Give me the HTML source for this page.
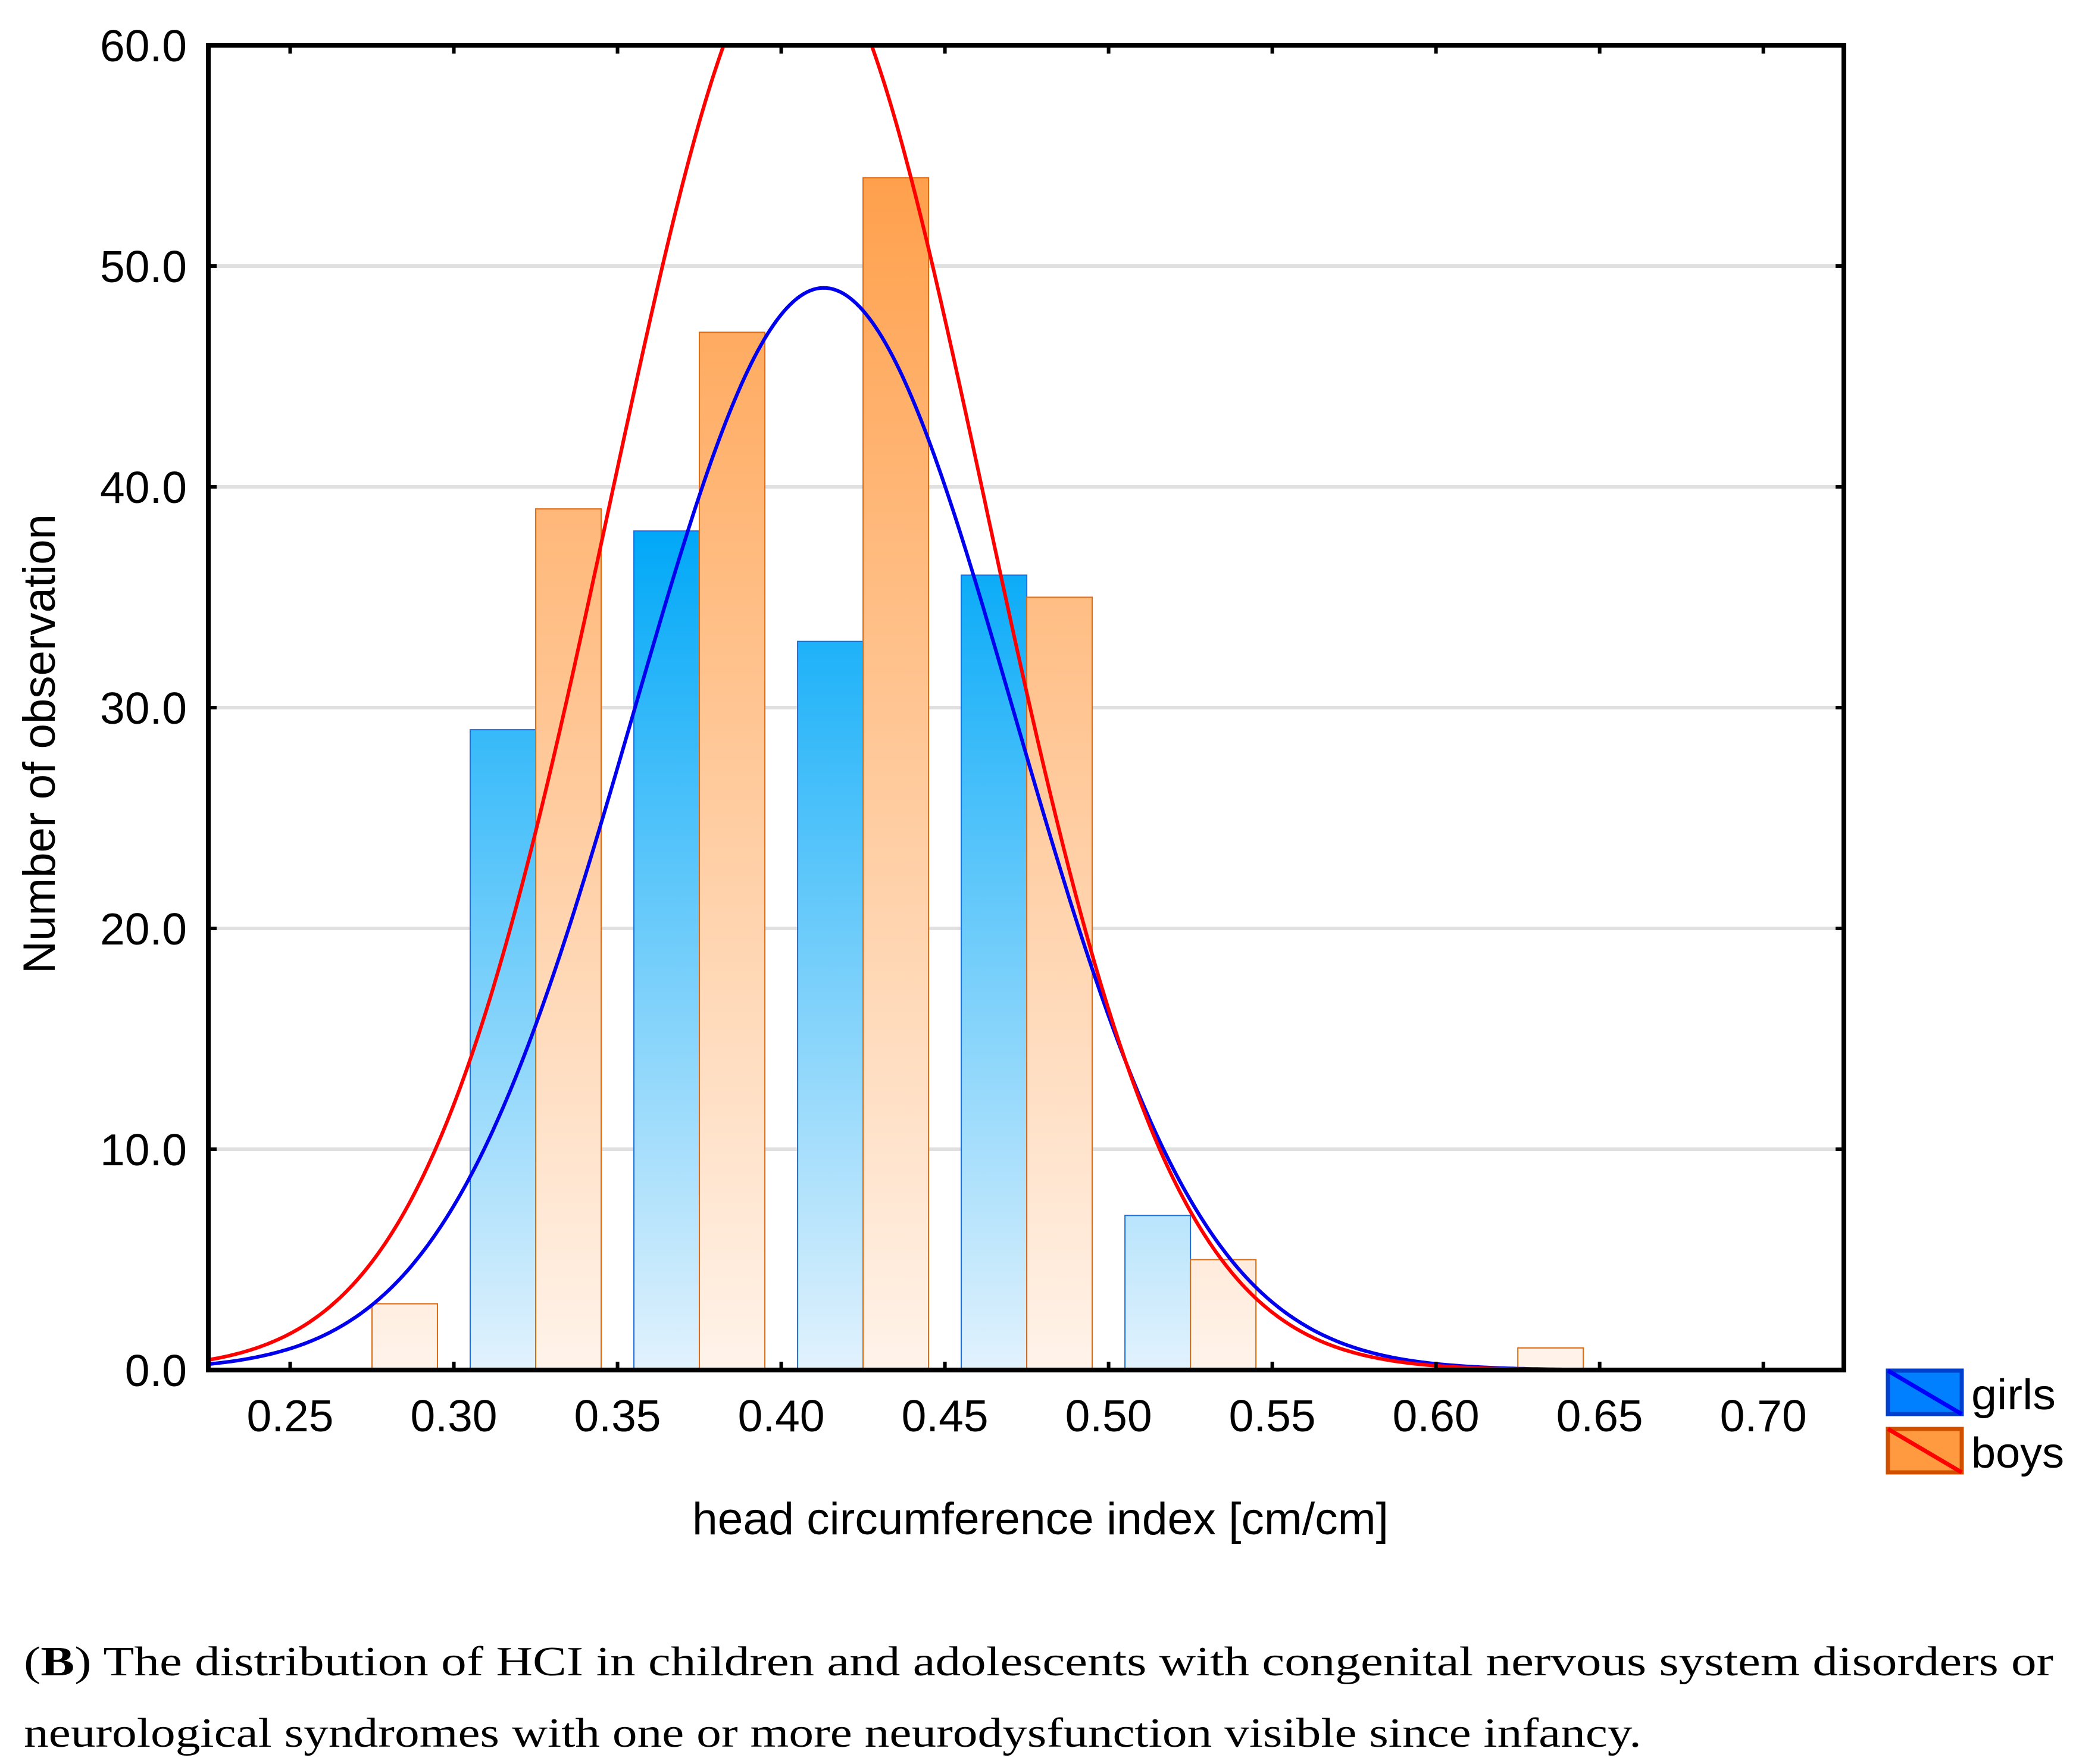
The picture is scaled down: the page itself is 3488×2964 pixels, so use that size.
<!DOCTYPE html>
<html><head><meta charset="utf-8"><style>
html,body{margin:0;padding:0;background:#fff;}
svg{display:block;}
</style></head><body>
<svg id="chart" width="3488" height="2964" viewBox="0 0 3488 2964" xmlns="http://www.w3.org/2000/svg">
<defs>
<linearGradient id="gGirls" gradientUnits="userSpaceOnUse" x1="0" y1="890" x2="0" y2="2302">
<stop offset="0" stop-color="#00a8f8"/><stop offset="1" stop-color="#e2f2fd"/></linearGradient>
<linearGradient id="gBoys" gradientUnits="userSpaceOnUse" x1="0" y1="296" x2="0" y2="2302">
<stop offset="0" stop-color="#ffa04c"/><stop offset="1" stop-color="#fff3ea"/></linearGradient>
<clipPath id="plotClip"><rect x="350" y="76" width="2748" height="2226"/></clipPath>
</defs>
<g id="grid"></g>
<g id="bars" clip-path="url(#plotClip)"></g>
<g id="curves" clip-path="url(#plotClip)"></g>
<g id="axes"></g>
<text x="1748" y="2578" text-anchor="middle" textLength="1170" lengthAdjust="spacingAndGlyphs" font-family="Liberation Sans, sans-serif" font-size="76">head circumference index [cm/cm]</text>
<text transform="translate(92,1250) rotate(-90)" text-anchor="middle" textLength="772" lengthAdjust="spacingAndGlyphs" font-family="Liberation Sans, sans-serif" font-size="76">Number of observation</text>
<g>
<rect x="3172" y="2303" width="124" height="73" fill="#0080ff" stroke="#0040cc" stroke-width="7"/>
<line x1="3172" y1="2303" x2="3296" y2="2376" stroke="#0000ff" stroke-width="7"/>
<text x="3312" y="2368" textLength="142" lengthAdjust="spacingAndGlyphs" font-family="Liberation Sans, sans-serif" font-size="72">girls</text>
<rect x="3172" y="2401" width="124" height="73" fill="#ff9a40" stroke="#d05000" stroke-width="7"/>
<line x1="3172" y1="2401" x2="3296" y2="2474" stroke="#ff0000" stroke-width="7"/>
<text x="3312" y="2466" textLength="156" lengthAdjust="spacingAndGlyphs" font-family="Liberation Sans, sans-serif" font-size="72">boys</text>
</g>
<text x="40" y="2815" textLength="3410" lengthAdjust="spacingAndGlyphs" font-family="Liberation Serif, serif" font-size="70">(<tspan font-weight="bold">B</tspan>) The distribution of HCI in children and adolescents with congenital nervous system disorders or</text>
<text x="40" y="2935" textLength="2718" lengthAdjust="spacingAndGlyphs" font-family="Liberation Serif, serif" font-size="70">neurological syndromes with one or more neurodysfunction visible since infancy.</text>
</svg>
<script>
var binStarts = [0.25, 0.30, 0.35, 0.40, 0.45, 0.50, 0.55, 0.60];
var girlsCounts = [0, 29, 38, 33, 36, 7, 0, 0];
var boysCounts = [3, 39, 47, 54, 35, 5, 0, 1];
var yTicks = [0, 10, 20, 30, 40, 50, 60];
var yTickLabels = ["0.0", "10.0", "20.0", "30.0", "40.0", "50.0", "60.0"];
var xTicks = [0.25, 0.30, 0.35, 0.40, 0.45, 0.50, 0.55, 0.60, 0.65, 0.70];
var xTickLabels = ["0.25", "0.30", "0.35", "0.40", "0.45", "0.50", "0.55", "0.60", "0.65", "0.70"];
var girlsFit = [143, 0.413, 0.0582];
var boysFit = [186, 0.405, 0.0572];
var binWidth = 0.05;

var NS = "http://www.w3.org/2000/svg";
var L = 350, R = 3098, T = 76, B = 2302;
var xMin = 0.225, xMax = 0.7246, yMax = 60;
function xs(v){ return L + (v - xMin) / (xMax - xMin) * (R - L); }
function ys(v){ return B - v / yMax * (B - T); }
function mk(tag, attrs, parent){ var e = document.createElementNS(NS, tag); for (var k in attrs) e.setAttribute(k, attrs[k]); parent.appendChild(e); return e; }

var grid = document.getElementById("grid");
var axes = document.getElementById("axes");
yTicks.forEach(function(t, i){
  var y = ys(t);
  if (t > 0 && t < yMax) {
    var g = mk("line", {x1: L, x2: R, y1: y, y2: y, stroke: "#e0e0e0", "stroke-width": 6}, grid);
    
    
  }
  mk("line", {x1: L, x2: L + 14, y1: y, y2: y, stroke: "#000", "stroke-width": 6}, axes);
  mk("line", {x1: R - 14, x2: R, y1: y, y2: y, stroke: "#000", "stroke-width": 6}, axes);
  var tx = mk("text", {x: 314, y: y + 27, "text-anchor": "end", "font-family": "Liberation Sans, sans-serif", "font-size": 75}, axes);
  tx.textContent = yTickLabels[i];
  
  
});
xTicks.forEach(function(t, i){
  var x = xs(t);
  mk("line", {x1: x, x2: x, y1: B, y2: B - 14, stroke: "#000", "stroke-width": 6}, axes);
  mk("line", {x1: x, x2: x, y1: T, y2: T + 14, stroke: "#000", "stroke-width": 6}, axes);
  var tx = mk("text", {x: x, y: 2405, "text-anchor": "middle", "font-family": "Liberation Sans, sans-serif", "font-size": 75}, axes);
  tx.textContent = xTickLabels[i];
  
  
});
var frame = mk("rect", {x: L, y: T, width: R - L, height: B - T, fill: "none", stroke: "#000", "stroke-width": 8}, axes);



var bars = document.getElementById("bars");
binStarts.forEach(function(b, i){
  if (girlsCounts[i] > 0) {
    var x0 = xs(b + 0.005), x1 = xs(b + 0.025);
    var r = mk("rect", {x: x0, y: ys(girlsCounts[i]), width: x1 - x0, height: B - ys(girlsCounts[i]), fill: "url(#gGirls)", stroke: "#1a6fe0", "stroke-width": 2}, bars);
    
    
  }
  if (boysCounts[i] > 0) {
    var x0b = xs(b + 0.025), x1b = xs(b + 0.045);
    var r2 = mk("rect", {x: x0b, y: ys(boysCounts[i]), width: x1b - x0b, height: B - ys(boysCounts[i]), fill: "url(#gBoys)", stroke: "#e06a10", "stroke-width": 2}, bars);
    
    
  }
});

var curves = document.getElementById("curves");
function curve(p, color, name){
  var n = p[0], mu = p[1], sd = p[2];
  var A = n * binWidth / (sd * Math.sqrt(2 * Math.PI));
  var d = "";
  for (var k = 0; k <= 500; k++) {
    var v = xMin + (xMax - xMin) * k / 500;
    var val = A * Math.exp(-(v - mu) * (v - mu) / (2 * sd * sd));
    d += (k ? "L" : "M") + xs(v).toFixed(1) + "," + ys(val).toFixed(1);
  }
  var pth = mk("path", {d: d, fill: "none", stroke: color, "stroke-width": 6}, curves);
  
  
}
curve(girlsFit, "#0000ee", "girls-normal-curve");
curve(boysFit, "#ff0000", "boys-normal-curve");
</script>
</body></html>
